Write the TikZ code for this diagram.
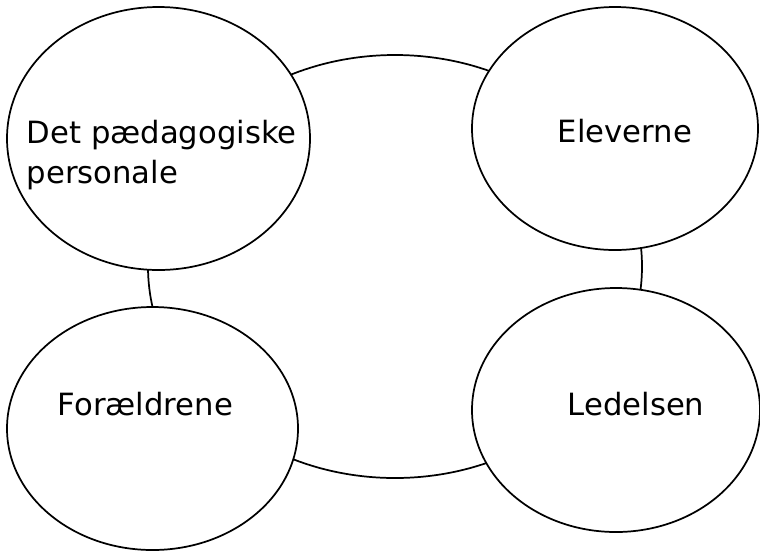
\documentclass[tikz,border=0pt]{standalone}
\usepackage{fontspec}
\setmainfont{DejaVu Sans}

\tikzset{every picture/.style={line width=1.3pt}}
\tikzset{
  bubble/.style={draw, fill=white},
  lbl/.style={anchor=base west, inner sep=0pt, font=\fontsize{23}{30}\selectfont, align=left}
}

\begin{document}
\begin{tikzpicture}[x=0.75pt,y=0.75pt,yscale=-1,xscale=1]
    \useasboundingbox (0,0) rectangle (760,551);

    %Shape: Ellipse [id:center]
    \draw   (395,266.5) ellipse (247 and 211.5);
    \coordinate (hub) at (395,266.5);

    %Shape: Ellipse [id:personale]
    \draw [bubble]  (158.5,138.5) ellipse (151.5 and 131.5);
    \coordinate (personale) at (158.5,138.5);
    %Shape: Ellipse [id:elever]
    \draw [bubble]  (615,128.5) ellipse (143 and 121.5);
    \coordinate (elever) at (615,128.5);
    %Shape: Ellipse [id:foraeldre]
    \draw [bubble]  (152.5,428.5) ellipse (145.5 and 121.5);
    \coordinate (foraeldre) at (152.5,428.5);
    %Shape: Ellipse [id:ledelse]
    \draw [bubble]  (616,410) ellipse (144 and 122);
    \coordinate (ledelse) at (616,410);

    % Text Node
    \draw (26,183) node [lbl] (tpersonale) {Det pædagogiske\\personale};
    % Text Node
    \draw (557,142) node [lbl] (telever) {Eleverne};
    % Text Node
    \draw (57,415) node [lbl] (tforaeldre) {Forældrene};
    % Text Node
    \draw (567,415) node [lbl] (tledelse) {Ledelsen};

\end{tikzpicture}
\end{document}
